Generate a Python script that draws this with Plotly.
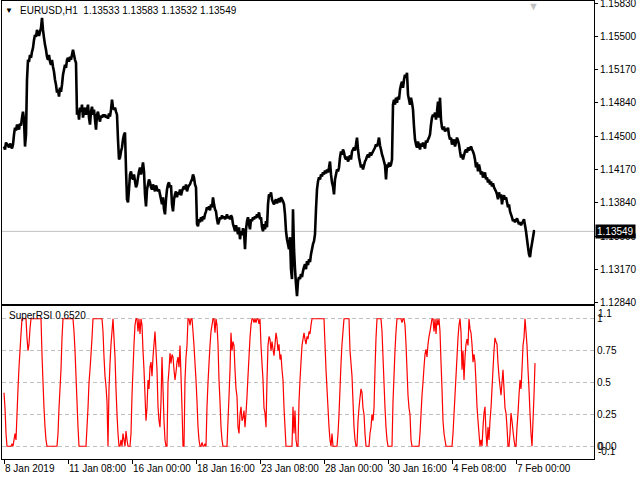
import pandas as pd
import plotly.graph_objects as go

# ---------------- data ----------------
symbol_title = "EURUSD,H1"
last_ohlc = [1.13533, 1.13583, 1.13532, 1.13549]
indicator_name = "SuperRSI"
indicator_last = 0.6520
first_bar = "2019-01-08 16:00"

close = [
    1.1440, 1.1437, 1.1444, 1.1442, 1.1441, 1.1439, 1.1443, 1.1441, 1.1438, 1.1442,
    1.1452, 1.1459, 1.1456, 1.1462, 1.1460, 1.1457, 1.1463, 1.1461, 1.1469, 1.1475,
    1.1467, 1.1440, 1.1452, 1.1507, 1.1527, 1.1525, 1.1532, 1.1529, 1.1535, 1.1539,
    1.1547, 1.1552, 1.1550, 1.1557, 1.1554, 1.1551, 1.1555, 1.1559, 1.1569, 1.1557,
    1.1549, 1.1542, 1.1537, 1.1530, 1.1527, 1.1532, 1.1525, 1.1522, 1.1527, 1.1520,
    1.1515, 1.1507, 1.1502, 1.1494, 1.1497, 1.1490, 1.1499, 1.1495, 1.1502, 1.1512,
    1.1517, 1.1522, 1.1519, 1.1527, 1.1529, 1.1525, 1.1530, 1.1527, 1.1532, 1.1537,
    1.1532, 1.1527, 1.1524, 1.1472, 1.1477, 1.1467, 1.1479, 1.1475, 1.1482, 1.1469,
    1.1475, 1.1479, 1.1472, 1.1477, 1.1482, 1.1469, 1.1462, 1.1475, 1.1480, 1.1472,
    1.1477, 1.1467, 1.1457, 1.1472, 1.1475, 1.1469, 1.1465, 1.1471, 1.1469, 1.1472,
    1.1470, 1.1472, 1.1469, 1.1471, 1.1468, 1.1473, 1.1470, 1.1477, 1.1487, 1.1479,
    1.1477, 1.1479, 1.1475, 1.1472, 1.1447, 1.1427, 1.1429, 1.1435, 1.1439, 1.1447,
    1.1452, 1.1454, 1.1417, 1.1387, 1.1384, 1.1397, 1.1412, 1.1415, 1.1409, 1.1407,
    1.1412, 1.1405, 1.1399, 1.1402, 1.1409, 1.1415, 1.1419, 1.1412, 1.1417, 1.1424,
    1.1415, 1.1392, 1.1380, 1.1397, 1.1402, 1.1407, 1.1404, 1.1399, 1.1397, 1.1402,
    1.1399, 1.1395, 1.1401, 1.1398, 1.1395, 1.1397, 1.1392, 1.1387, 1.1382, 1.1389,
    1.1377, 1.1372, 1.1387, 1.1397, 1.1402, 1.1404, 1.1399, 1.1401, 1.1382, 1.1375,
    1.1387, 1.1392, 1.1395, 1.1389, 1.1394, 1.1392, 1.1397, 1.1391, 1.1395, 1.1398,
    1.1400, 1.1397, 1.1402, 1.1395, 1.1399, 1.1401, 1.1402, 1.1405, 1.1407, 1.1412,
    1.1409, 1.1402, 1.1399, 1.1362, 1.1360, 1.1367, 1.1364, 1.1369, 1.1365, 1.1370,
    1.1367, 1.1372, 1.1375, 1.1379, 1.1377, 1.1380, 1.1376, 1.1382, 1.1379, 1.1389,
    1.1382, 1.1377, 1.1375, 1.1367, 1.1362, 1.1365, 1.1369, 1.1367, 1.1371, 1.1368,
    1.1370, 1.1367, 1.1369, 1.1372, 1.1368, 1.1370, 1.1367, 1.1371, 1.1369, 1.1362,
    1.1359, 1.1355, 1.1361, 1.1357, 1.1352, 1.1359, 1.1347, 1.1355, 1.1351, 1.1358,
    1.1354, 1.1337, 1.1357, 1.1365, 1.1369, 1.1362, 1.1357, 1.1367, 1.1365, 1.1369,
    1.1367, 1.1370, 1.1368, 1.1372, 1.1369, 1.1374, 1.1367, 1.1369, 1.1359, 1.1355,
    1.1362, 1.1357, 1.1365, 1.1359, 1.1382, 1.1392, 1.1390, 1.1394, 1.1387, 1.1384,
    1.1382, 1.1385, 1.1387, 1.1383, 1.1386, 1.1388, 1.1384, 1.1389, 1.1387, 1.1385,
    1.1382, 1.1372, 1.1355, 1.1347, 1.1342, 1.1337, 1.1349, 1.1317, 1.1307, 1.1377,
    1.1337, 1.1317, 1.1302, 1.1290, 1.1305, 1.1309, 1.1307, 1.1312, 1.1309, 1.1315,
    1.1319, 1.1322, 1.1317, 1.1325, 1.1321, 1.1327, 1.1324, 1.1332, 1.1337, 1.1342,
    1.1345, 1.1352, 1.1377, 1.1397, 1.1405, 1.1409, 1.1407, 1.1412, 1.1410, 1.1414,
    1.1412, 1.1416, 1.1413, 1.1417, 1.1414, 1.1419, 1.1425, 1.1412, 1.1404, 1.1400,
    1.1392, 1.1407, 1.1412, 1.1417, 1.1415, 1.1419, 1.1429, 1.1435, 1.1432, 1.1437,
    1.1434, 1.1429, 1.1427, 1.1430, 1.1425, 1.1428, 1.1431, 1.1427, 1.1435, 1.1437,
    1.1439, 1.1436, 1.1442, 1.1449, 1.1437, 1.1429, 1.1424, 1.1419, 1.1422, 1.1417,
    1.1421, 1.1425, 1.1427, 1.1430, 1.1432, 1.1429, 1.1434, 1.1431, 1.1433, 1.1435,
    1.1437, 1.1439, 1.1442, 1.1440, 1.1444, 1.1449, 1.1441, 1.1437, 1.1432, 1.1429,
    1.1425, 1.1421, 1.1407, 1.1422, 1.1419, 1.1424, 1.1420, 1.1422, 1.1427, 1.1482,
    1.1487, 1.1482, 1.1489, 1.1484, 1.1490, 1.1487, 1.1497, 1.1502, 1.1505, 1.1499,
    1.1507, 1.1512, 1.1509, 1.1514, 1.1492, 1.1487, 1.1482, 1.1489, 1.1484, 1.1477,
    1.1460, 1.1447, 1.1442, 1.1439, 1.1445, 1.1441, 1.1437, 1.1443, 1.1440, 1.1444,
    1.1441, 1.1438, 1.1446, 1.1444, 1.1447, 1.1449, 1.1452, 1.1462, 1.1469, 1.1472,
    1.1470, 1.1474, 1.1467, 1.1475, 1.1485, 1.1469, 1.1489, 1.1467, 1.1459, 1.1457,
    1.1460, 1.1455, 1.1458, 1.1456, 1.1459, 1.1451, 1.1447, 1.1449, 1.1442, 1.1445,
    1.1447, 1.1440, 1.1444, 1.1449, 1.1446, 1.1442, 1.1435, 1.1429, 1.1432, 1.1427,
    1.1431, 1.1435, 1.1437, 1.1434, 1.1439, 1.1436, 1.1438, 1.1440, 1.1437, 1.1435,
    1.1432, 1.1427, 1.1419, 1.1424, 1.1415, 1.1422, 1.1417, 1.1412, 1.1415, 1.1409,
    1.1411, 1.1414, 1.1407, 1.1409, 1.1404, 1.1407, 1.1402, 1.1405, 1.1400, 1.1403,
    1.1399, 1.1397, 1.1395, 1.1392, 1.1387, 1.1394, 1.1389, 1.1392, 1.1382, 1.1389,
    1.1391, 1.1387, 1.1389, 1.1384, 1.1379, 1.1382, 1.1375, 1.1372, 1.1369, 1.1365,
    1.1367, 1.1364, 1.1366, 1.1368, 1.1365, 1.1362, 1.1364, 1.1361, 1.1363, 1.1365,
    1.1367, 1.1361, 1.1355, 1.1347, 1.1339, 1.1332, 1.1329, 1.1337, 1.1343, 1.1349,
    1.1355, 1.13549,
]

super_rsi = [
    0.42, 0.30, 0.10, 0.0, 0.0, 0.0, 0.0, 0.0, 0.02, 0.0,
    0.05, 0.10, 0.05, 0.25, 0.45, 0.62, 0.75, 0.88, 1.0, 1.0,
    1.0, 1.0, 1.0, 0.85, 0.75, 0.80, 0.92, 1.0, 1.0, 1.0,
    1.0, 1.0, 1.0, 1.0, 1.0, 1.0, 1.0, 1.0, 0.72, 0.5,
    0.3, 0.15, 0.05, 0.0, 0.0, 0.0, 0.0, 0.0, 0.0, 0.0,
    0.0, 0.0, 0.0, 0.0, 0.1, 0.3, 0.45, 0.6, 0.85, 1.0,
    1.0, 1.0, 1.0, 1.0, 1.0, 1.0, 1.0, 1.0, 1.0, 1.0,
    0.9, 0.75, 0.55, 0.35, 0.15, 0.0, 0.0, 0.0, 0.0, 0.0,
    0.0, 0.0, 0.0, 0.15, 0.3, 0.5, 0.6, 0.72, 0.85, 1.0,
    1.0, 1.0, 1.0, 1.0, 1.0, 1.0, 1.0, 1.0, 1.0, 0.9,
    0.7, 0.55, 0.47, 0.35, 0.0, 0.45, 0.65, 0.8, 0.9, 1.0,
    0.85, 0.7, 0.45, 0.25, 0.1, 0.0, 0.0, 0.05, 0.0, 0.1,
    0.05, 0.0, 0.12, 0.05, 0.0, 0.0, 0.0, 0.1, 0.4, 0.6,
    0.8, 0.95, 1.0, 1.0, 0.9, 1.0, 0.88, 1.0, 0.95, 0.75,
    0.6, 0.4, 0.2, 0.3, 0.52, 0.45, 0.62, 0.66, 0.55, 0.7,
    0.8, 0.9, 0.75, 0.6, 0.31, 0.2, 0.15, 0.35, 0.7, 0.45,
    0.2, 0.05, 0.0, 0.0, 0.5, 0.6, 0.73, 0.65, 0.72, 0.7,
    0.6, 0.52, 0.58, 0.66, 0.7, 0.62, 0.79, 0.55, 0.3, 0.0,
    0.0, 0.52, 0.7, 0.79, 1.0, 1.0, 0.95, 1.0, 1.0, 0.9,
    0.79, 0.65, 0.52, 0.35, 0.15, 0.05, 0.0, 0.0, 0.03, 0.0,
    0.0, 0.02, 0.0, 0.31, 0.5, 0.65, 0.79, 0.9, 0.95, 1.0,
    1.0, 0.89, 1.0, 0.95, 0.8, 0.52, 0.35, 0.15, 0.05, 0.0,
    0.0, 0.0, 0.0, 0.0, 0.2, 0.39, 0.6, 0.89, 0.75, 0.82,
    0.79, 0.6, 0.45, 0.39, 0.15, 0.1, 0.25, 0.31, 0.2, 0.22,
    0.28, 0.15, 0.26, 0.39, 0.55, 0.7, 0.85, 0.95, 1.0, 1.0,
    0.97, 1.0, 0.97, 1.0, 1.0, 0.96, 1.0, 0.79, 0.65, 0.52,
    0.3, 0.26, 0.15, 0.52, 0.79, 0.86, 0.84, 0.75, 0.82, 0.76,
    0.71, 0.8, 0.89, 0.84, 0.75, 0.8, 0.68, 0.72, 0.6, 0.52,
    0.3, 0.15, 0.0, 0.0, 0.0, 0.0, 0.0, 0.0, 0.0, 0.31,
    0.1, 0.28, 0.05, 0.0, 0.0, 0.35, 0.52, 0.66, 0.79, 0.84,
    0.89, 0.84, 0.8, 0.86, 0.84, 0.9, 0.88, 0.95, 1.0, 1.0,
    1.0, 1.0, 1.0, 1.0, 1.0, 1.0, 1.0, 1.0, 1.0, 1.0,
    1.0, 0.8, 0.6, 0.45, 0.3, 0.15, 0.05, 0.0, 0.1, 0.0,
    0.0, 0.0, 0.0, 0.0, 0.1, 0.25, 0.45, 0.65, 0.8, 0.9,
    1.0, 1.0, 1.0, 1.0, 1.0, 1.0, 0.75, 0.65, 0.55, 0.35,
    0.15, 0.05, 0.0, 0.0, 0.2, 0.3, 0.38, 0.45, 0.42, 0.3,
    0.25, 0.1, 0.0, 0.0, 0.0, 0.0, 0.1, 0.15, 0.25, 0.2,
    0.3, 0.6, 0.85, 1.0, 1.0, 1.0, 1.0, 1.0, 0.9, 0.7,
    0.5, 0.3, 0.15, 0.05, 0.0, 0.0, 0.0, 0.0, 0.0, 0.35,
    0.55, 0.75, 0.9, 1.0, 1.0, 1.0, 1.0, 1.0, 0.97, 1.0,
    1.0, 0.95, 0.8, 0.6, 0.4, 0.3, 0.25, 0.05, 0.0, 0.0,
    0.0, 0.0, 0.0, 0.0, 0.0, 0.0, 0.1, 0.25, 0.4, 0.5,
    0.62, 0.72, 0.76, 0.7, 0.8, 0.86, 0.9, 0.95, 1.0, 1.0,
    0.9, 1.0, 0.88, 1.0, 0.95, 1.0, 0.9, 0.66, 0.45, 0.2,
    0.1, 0.05, 0.0, 0.0, 0.0, 0.0, 0.0, 0.0, 0.0, 0.1,
    0.25, 0.4, 0.55, 0.7, 0.85, 0.95, 1.0, 0.9, 0.6, 0.75,
    0.52, 0.7, 0.8, 0.84, 0.79, 1.0, 0.92, 0.89, 0.8, 0.66,
    0.72, 0.66, 0.5, 0.31, 0.2, 0.1, 0.0, 0.05, 0.0, 0.15,
    0.26, 0.31, 0.1, 0.0, 0.15, 0.05, 0.2, 0.3, 0.45, 0.6,
    0.75, 0.85, 0.82, 0.8, 0.65, 0.55, 0.47, 0.4, 0.5, 0.6,
    0.45, 0.3, 0.26, 0.15, 0.0, 0.0, 0.1, 0.26, 0.2, 0.12,
    0.05, 0.0, 0.0, 0.15, 0.26, 0.4, 0.52, 0.45, 0.6, 0.79,
    0.85, 1.0, 0.9, 0.79, 0.6, 0.45, 0.26, 0.1, 0.0, 0.2,
    0.4, 0.652,
]

price_ticks = [1.15830, 1.15500, 1.15170, 1.14840, 1.14500,
               1.14170, 1.13840, 1.13500, 1.13170, 1.12840]
rsi_levels = [1.0, 0.75, 0.5, 0.25, 0.0]
rsi_level_text = ["1", "0.75", "0.5", "0.25", "0.00"]
rsi_max, rsi_min = 1.1, -0.1
date_ticks = ["2019-01-08 16:00", "2019-01-11 08:00", "2019-01-16 00:00",
              "2019-01-18 16:00", "2019-01-23 08:00", "2019-01-28 00:00",
              "2019-01-30 16:00", "2019-02-04 08:00", "2019-02-07 00:00"]
date_tick_text = ["8 Jan 2019", "11 Jan 08:00", "16 Jan 00:00", "18 Jan 16:00",
                  "23 Jan 08:00", "28 Jan 00:00", "30 Jan 16:00", "4 Feb 08:00",
                  "7 Feb 00:00"]

# ---------------- bar times (H1, weekends skipped) ----------------
n = len(close)
hours = pd.date_range(first_bar, periods=n * 2, freq="h")
bar_times = [t for t in hours if t.dayofweek < 5][:n]
x = [t.strftime("%Y-%m-%d %H:%M") for t in bar_times]

FONT = "Liberation Sans, Arial, sans-serif"
FS = 10
GRAY = "#c0c0c0"

fig = go.Figure()
fig.add_trace(go.Scatter(x=x, y=close, mode="lines",
                         line=dict(color="black", width=2.6, simplify=False),
                         xaxis="x2", yaxis="y", hoverinfo="skip"))
fig.add_trace(go.Scatter(x=x[:len(super_rsi)], y=super_rsi, mode="lines",
                         line=dict(color="#ff0000", width=1.2, simplify=False),
                         xaxis="x", yaxis="y2", hoverinfo="skip"))

# current price line
fig.add_shape(type="line", xref="paper", x0=0, x1=1, yref="y",
              y0=last_ohlc[3], y1=last_ohlc[3],
              line=dict(color=GRAY, width=1), layer="below")

axis_common = dict(showgrid=False, zeroline=False, showline=True,
                   linecolor="black", linewidth=1, mirror=True,
                   automargin=False)

fig.update_layout(
    width=640, height=480,
    margin=dict(l=2, r=46, t=1, b=21),
    paper_bgcolor="white", plot_bgcolor="white",
    showlegend=False, hovermode=False,
    font=dict(family=FONT, size=FS, color="black"),
    xaxis=dict(type="category", domain=[0, 1], anchor="y2",
               range=[-2, 590], tickmode="array",
               tickvals=date_ticks, ticktext=date_tick_text,
               ticks="outside", ticklen=4, tickcolor="black",
               tickangle=0, ticklabelposition="outside right",
               **axis_common),
    xaxis2=dict(type="category", matches="x", anchor="y",
                showticklabels=False, ticks="", **axis_common),
    yaxis=dict(domain=[0.3384, 1], anchor="x2", side="right",
               range=[1.12820, 1.15860], tickmode="array",
               tickvals=price_ticks,
               ticktext=[f"{v:.5f}" for v in price_ticks],
               ticks="outside", ticklen=3, tickcolor="black",
               ticklabeloverflow="allow",
               **axis_common),
    yaxis2=dict(domain=[0, 0.3341], anchor="x", side="right",
                range=[rsi_min, rsi_max], tickmode="array",
                tickvals=rsi_levels, ticktext=rsi_level_text,
                ticks="", showline=True, linecolor="black", linewidth=1,
                mirror=True, zeroline=False, automargin=False,
                showgrid=True, gridcolor=GRAY, gridwidth=1,
                griddash="4px,3px"),
)

ann = [
    dict(text="▼", x=0.0118, y=0.9803, font=dict(size=8, color="black")),
    dict(text=f"{symbol_title}\u00a0\u00a0" + " ".join(f"{v:.5f}" for v in last_ohlc),
         x=0.027, y=0.9803, xanchor="left"),
    dict(text=f"{indicator_name} {indicator_last:.4f}", x=0.0084, y=0.3144,
         xanchor="left"),
    dict(text="▼", x=0.897, y=0.99, font=dict(size=11, color=GRAY)),
]
for a in ann:
    a.setdefault("xref", "paper")
    a.setdefault("yref", "paper")
    a.setdefault("showarrow", False)
    a.setdefault("xanchor", "center")
    a.setdefault("yanchor", "middle")
    fig.add_annotation(**a)

# last price badge on the price scale
fig.add_annotation(xref="paper", x=1, xanchor="left", xshift=1,
                   yref="y", y=last_ohlc[3], yanchor="middle",
                   text=f"{last_ohlc[3]:.5f}", showarrow=False,
                   bgcolor="black", borderpad=1,
                   font=dict(color="white", size=FS, family=FONT))
# indicator scale min/max labels
fig.add_annotation(xref="paper", x=1, xanchor="left", xshift=2,
                   yref="y2", y=rsi_max, yanchor="top", yshift=0,
                   text=f"{rsi_max:g}", showarrow=False)
fig.add_annotation(xref="paper", x=1, xanchor="left", xshift=2,
                   yref="y2", y=rsi_min, yanchor="bottom", yshift=0,
                   text=f"{rsi_min:g}", showarrow=False)
fig.add_annotation(xref="paper", x=1, xanchor="left", xshift=2,
                   yref="y2", y=0, yanchor="middle",
                   text="0", showarrow=False)

fig.write_html(
    "out.html",
    config={"displayModeBar": False},
    post_script="document.body.style.margin='0';document.body.style.padding='0';",
)
